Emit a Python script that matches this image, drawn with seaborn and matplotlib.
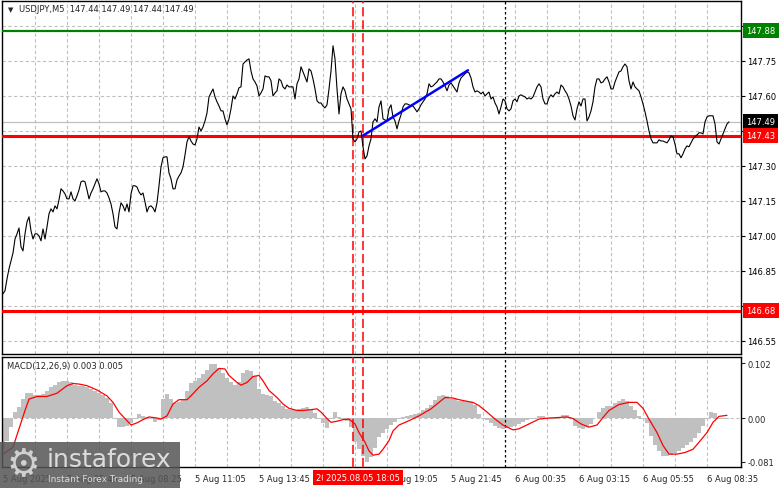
import numpy as np
import matplotlib
matplotlib.use("Agg")
import matplotlib.pyplot as plt
import matplotlib.transforms as mtrans
from matplotlib.patches import Rectangle
import seaborn as sns

# USDJPY M5 closes, one value per bar
price = [
    146.752, 146.765, 146.816, 146.859, 146.893, 146.927, 146.987, 147.009, 147.034, 146.953,
    146.936, 147.009, 147.060, 147.082, 147.022, 146.987, 147.009, 147.009, 147.000, 146.979,
    147.030, 146.987, 147.039, 147.095, 147.116, 147.103, 147.129, 147.116, 147.155, 147.202,
    147.193, 147.180, 147.159, 147.159, 147.189, 147.159, 147.150, 147.172, 147.197, 147.232,
    147.236, 147.232, 147.197, 147.159, 147.184, 147.202, 147.223, 147.245, 147.223, 147.189,
    147.193, 147.193, 147.184, 147.163, 147.137, 147.095, 147.039, 147.030, 147.099, 147.142,
    147.129, 147.107, 147.137, 147.103, 147.180, 147.215, 147.215, 147.210, 147.189, 147.176,
    147.184, 147.146, 147.103, 147.125, 147.129, 147.120, 147.103, 147.142, 147.215, 147.296,
    147.335, 147.339, 147.339, 147.270, 147.245, 147.202, 147.202, 147.240, 147.257, 147.270,
    147.296, 147.347, 147.403, 147.425, 147.407, 147.394, 147.390, 147.416, 147.467, 147.450,
    147.467, 147.493, 147.527, 147.596, 147.613, 147.630, 147.596, 147.575, 147.557, 147.536,
    147.536, 147.502, 147.476, 147.502, 147.545, 147.600, 147.587, 147.609, 147.635, 147.639,
    147.737, 147.746, 147.754, 147.759, 147.707, 147.673, 147.660, 147.643, 147.600, 147.613,
    147.630, 147.686, 147.682, 147.682, 147.665, 147.600, 147.613, 147.622, 147.673, 147.665,
    147.639, 147.630, 147.647, 147.639, 147.639, 147.639, 147.587, 147.652, 147.673, 147.725,
    147.703, 147.682, 147.660, 147.716, 147.707, 147.673, 147.630, 147.579, 147.570, 147.570,
    147.557, 147.549, 147.562, 147.630, 147.707, 147.815, 147.759, 147.630, 147.523, 147.609,
    147.639, 147.622, 147.587, 147.566, 147.545, 147.416, 147.403, 147.416, 147.446, 147.450,
    147.382, 147.330, 147.343, 147.386, 147.416, 147.489, 147.502, 147.489, 147.553, 147.579,
    147.502, 147.497, 147.493, 147.545, 147.562, 147.510, 147.493, 147.459, 147.493, 147.519,
    147.553, 147.566, 147.566, 147.562, 147.557, 147.557, 147.545, 147.532, 147.545, 147.562,
    147.575, 147.587, 147.609, 147.652, 147.639, 147.643, 147.652, 147.660, 147.673, 147.673,
    147.660, 147.643, 147.622, 147.647, 147.656, 147.643, 147.630, 147.617, 147.656, 147.677,
    147.686, 147.695, 147.703, 147.699, 147.677, 147.639, 147.617, 147.622, 147.617, 147.609,
    147.617, 147.600, 147.609, 147.617, 147.587, 147.596, 147.570, 147.553, 147.523, 147.553,
    147.587, 147.579, 147.545, 147.536, 147.545, 147.579, 147.587, 147.575, 147.600, 147.605,
    147.600, 147.596, 147.587, 147.592, 147.587, 147.596, 147.617, 147.639, 147.652, 147.639,
    147.587, 147.566, 147.566, 147.592, 147.605, 147.596, 147.609, 147.617, 147.609, 147.647,
    147.639, 147.622, 147.609, 147.587, 147.557, 147.515, 147.497, 147.545, 147.575, 147.557,
    147.587, 147.587, 147.493, 147.510, 147.536, 147.575, 147.639, 147.673, 147.673, 147.656,
    147.660, 147.673, 147.682, 147.660, 147.630, 147.630, 147.660, 147.682, 147.703, 147.707,
    147.725, 147.737, 147.725, 147.665, 147.630, 147.660, 147.639, 147.630, 147.622, 147.596,
    147.566, 147.532, 147.493, 147.450, 147.416, 147.399, 147.399, 147.399, 147.412, 147.407,
    147.407, 147.403, 147.399, 147.412, 147.429, 147.425, 147.394, 147.352, 147.352, 147.335,
    147.352, 147.373, 147.386, 147.382, 147.399, 147.416, 147.425, 147.433, 147.442, 147.442,
    147.437, 147.489, 147.510, 147.515, 147.515, 147.515, 147.480, 147.403, 147.394, 147.416,
    147.437, 147.459, 147.480, 147.489,
]

# MACD main (histogram), read every second bar
hist = [
    -0.058, -0.042, -0.017, 0.011, 0.021, 0.035, 0.046, 0.047, 0.043, 0.043,
    0.045, 0.051, 0.058, 0.062, 0.066, 0.069, 0.068, 0.066, 0.061, 0.060,
    0.060, 0.057, 0.053, 0.051, 0.046, 0.042, 0.037, 0.028, -0.002, -0.017,
    -0.016, -0.014, -0.009, -0.002, 0.007, 0.004, 0.002, -0.002, -0.007, -0.004,
    0.035, 0.044, 0.035, 0.028, 0.030, 0.036, 0.050, 0.065, 0.069, 0.074,
    0.081, 0.090, 0.100, 0.100, 0.093, 0.083, 0.075, 0.066, 0.061, 0.066,
    0.083, 0.090, 0.088, 0.078, 0.054, 0.045, 0.043, 0.040, 0.032, 0.027,
    0.022, 0.017, 0.015, 0.014, 0.017, 0.019, 0.020, 0.016, 0.010, -0.001,
    -0.010, -0.019, -0.002, 0.011, 0.001, -0.002, -0.006, -0.017, -0.045, -0.057,
    -0.070, -0.081, -0.073, -0.056, -0.036, -0.027, -0.020, -0.013, -0.007, -0.002,
    0.001, 0.004, 0.006, 0.008, 0.010, 0.014, 0.018, 0.025, 0.033, 0.040,
    0.042, 0.040, 0.036, 0.035, 0.032, 0.032, 0.032, 0.029, 0.024, 0.007,
    -0.002, -0.004, -0.009, -0.014, -0.019, -0.020, -0.019, -0.017, -0.014, -0.012,
    -0.008, -0.004, -0.002, -0.001, 0.003, 0.004, -0.001, -0.002, -0.001, 0.002,
    0.005, 0.005, -0.001, -0.015, -0.019, -0.020, -0.017, -0.012, 0.000, 0.011,
    0.019, 0.023, 0.023, 0.028, 0.032, 0.035, 0.032, 0.023, 0.014, 0.004,
    -0.001, -0.009, -0.034, -0.051, -0.062, -0.070, -0.071, -0.069, -0.065, -0.061,
    -0.056, -0.050, -0.045, -0.038, -0.027, -0.015, -0.001, 0.011, 0.009, -0.001,
    -0.002, -0.001,
]

# signal line, read at these bars
sig_bars = [0, 5, 8, 11, 13, 17, 22, 27, 32, 35, 38, 42, 47, 52, 55, 58, 62, 64, 67, 70,
            73, 77, 79, 82, 85, 88, 92, 95, 98, 102, 105, 108, 111, 113, 117, 119, 122, 125, 128, 130,
            133, 137, 140, 143, 147, 150, 153, 157, 159, 162, 164, 167, 170, 173, 176, 178, 181, 183, 185, 188,
            190, 193, 195, 198, 203, 208, 214, 218, 221, 225, 228, 232, 235, 238, 242, 246, 250, 255, 258, 263,
            268, 273, 278, 282, 285, 289, 293, 297, 300, 303, 308, 313, 317, 320, 323, 327, 330, 333, 337, 341,
            345, 348, 352, 355, 358, 362]
sig_vals = [-0.067, -0.054, -0.020, 0.014, 0.035, 0.040, 0.040, 0.046, 0.060, 0.064,
            0.063, 0.060, 0.052, 0.041, 0.029, 0.011, -0.005, -0.013, -0.009, -0.003,
            0.002, 0.000, -0.002, 0.004, 0.026, 0.034, 0.034, 0.045, 0.057, 0.069,
            0.082, 0.092, 0.091, 0.079, 0.066, 0.061, 0.066, 0.077, 0.079, 0.069,
            0.051, 0.038, 0.026, 0.018, 0.014, 0.014, 0.015, 0.017, 0.011, -0.001,
            -0.008, -0.006, -0.003, -0.002, -0.011, -0.027, -0.045, -0.061, -0.069, -0.067,
            -0.058, -0.042, -0.024, -0.013, -0.005, 0.004, 0.017, 0.029, 0.038, 0.037,
            0.034, 0.031, 0.029, 0.023, 0.011, -0.002, -0.013, -0.022, -0.020, -0.011,
            -0.002, 0.000, 0.001, 0.002, -0.001, -0.011, -0.017, -0.013, 0.001, 0.014,
            0.025, 0.029, 0.029, 0.018, -0.002, -0.027, -0.051, -0.067, -0.067, -0.064,
            -0.058, -0.045, -0.027, -0.008, 0.003, 0.005]

tick_bars = [0, 32, 64, 96, 128, 160, 192, 224, 256, 288, 320, 352]
tick_labels = ["5 Aug 2025", "5 Aug 05:45", "5 Aug 08:25", "5 Aug 11:05", "5 Aug 13:45",
               "5 Aug 16:25", "5 Aug 19:05", "5 Aug 21:45", "6 Aug 00:35", "6 Aug 03:15",
               "6 Aug 05:55", "6 Aug 08:35"]
price_ticks = [146.55, 146.70, 146.85, 147.00, 147.15, 147.30, 147.45, 147.60, 147.75, 147.90]

green_level = 147.88
red_levels = [147.43, 146.68]
bid = 147.49
trend_bars = [180, 232.5]
trend_prices = [147.43, 147.71]
event_bars = [175, 180]
event_labels = ["2025.08.05 17:45", "2025.08.05 18:05"]
day_sep = 251

sns.set_style("white")
plt.rcParams["font.family"] = ["DejaVu Sans"]

fig = plt.figure(figsize=(7.81, 4.89), dpi=100)
W, H = 781, 489
ax = fig.add_axes([2 / W, 1 - 355 / H, 739 / W, 353 / H])
ax2 = fig.add_axes([2 / W, 1 - 468 / H, 739 / W, 110 / H])

grid_kw = dict(color="#c0c0c0", lw=0.8, ls=(0, (3, 2.2)), zorder=0)
for a in (ax, ax2):
    a.set_xlim(-0.5, 369)
    for g in range(16, 368, 16):
        a.axvline(g, **grid_kw)
    for b in event_bars:
        a.axvline(b, color="red", lw=1.1, ls=(0, (6, 2.5)), zorder=3)
    a.axvline(day_sep, color="black", lw=0.9, ls=(0, (2, 2)), zorder=3)
    for s in a.spines.values():
        s.set_color("black")
        s.set_linewidth(1)

# price panel
for p in price_ticks:
    ax.axhline(p, **grid_kw)
ax.axhline(bid, color="#c0c0c0", lw=0.9, zorder=1)
ax.axhline(green_level, color="#008000", lw=1.6, zorder=4)
for r in red_levels:
    ax.axhline(r, color="#ff0000", lw=2.2, zorder=4)
sns.lineplot(x=np.arange(len(price)), y=price, ax=ax, color="black", lw=0.8, zorder=5)
ax.plot(trend_bars, trend_prices, color="#0000ff", lw=1.8, zorder=6)
ax.set_ylim(146.494, 148.007)
ax.yaxis.tick_right()
ax.set_yticks(price_ticks, [f"{p:.2f}" for p in price_ticks])
ax.tick_params(axis="y", length=3, width=0.8, labelsize=6, pad=1.5, colors="black")
ax.tick_params(axis="x", bottom=False, labelbottom=False)
ax.set_xlabel("")
ax.set_ylabel("")

lbl_tr = mtrans.offset_copy(mtrans.blended_transform_factory(ax.transAxes, ax.transData),
                            fig=fig, x=5, y=0, units="dots")
for val, col in [(green_level, "#008000"), (bid, "black"), (red_levels[0], "#ff0000"),
                 (red_levels[1], "#ff0000")]:
    ax.text(1.0, val, f"{val:.2f}", transform=lbl_tr, ha="left", va="center", color="white",
            fontsize=6, zorder=10, clip_on=False,
            bbox=dict(boxstyle="square,pad=0.4", fc=col, ec="none"))

# MACD panel
ax2.axhline(0, **grid_kw)
hist_bars = np.arange(0, 2 * len(hist), 2)
ax2.bar(hist_bars, hist, width=2.0, color="#c0c0c0", linewidth=0, zorder=1)
sns.lineplot(x=sig_bars, y=sig_vals, ax=ax2, color="red", lw=0.9, zorder=5)
ax2.set_ylim(-0.0909, 0.1132)
ax2.yaxis.tick_right()
ax2.set_yticks([0.102, 0.0, -0.081], ["0.102", "0.00", "-0.081"])
ax2.tick_params(axis="y", length=3, width=0.8, labelsize=6, pad=1.5)
ax2.set_xticks(tick_bars, tick_labels, ha="left")
ax2.tick_params(axis="x", length=3, width=0.8, labelsize=6, pad=2)
ax2.set_xlabel("")
ax2.set_ylabel("")

ev_tr = mtrans.blended_transform_factory(ax2.transData, ax2.transAxes)
for b, t in zip(event_bars, event_labels):
    ax2.text(b, -0.093, t, transform=ev_tr, ha="center", va="center", color="white",
             fontsize=6, zorder=10, clip_on=False,
             bbox=dict(boxstyle="square,pad=0.35", fc="#ff0000", ec="none"))

# headers
fig.text(8 / W, 1 - 10 / H, "\u25bc", fontsize=5, va="center", ha="left")
fig.text(19 / W, 1 - 10 / H, "USDJPY,M5  147.44 147.49 147.44 147.49", fontsize=6,
         va="center", ha="left")
fig.text(7 / W, 1 - 367 / H, "MACD(12,26,9) 0.003 0.005", fontsize=6, va="center", ha="left")

# watermark
fig.patches.append(Rectangle((0, 0), 180 / W, 46 / H, transform=fig.transFigure,
                             facecolor="#555555", alpha=0.85, edgecolor="none", zorder=20))
fig.text(23 / W, 1 - 466 / H, "\u2699", fontsize=27, color="#d0d0d0", ha="center",
         va="center", zorder=21)
fig.text(47 / W, 1 - 460 / H, "instaforex", fontsize=18, color="#dcdcdc", ha="left",
         va="center", zorder=21)
fig.text(48 / W, 1 - 480 / H, "Instant Forex Trading", fontsize=6.5, color="#dcdcdc",
         ha="left", va="center", zorder=21)

fig.savefig("out.png", dpi=100)
